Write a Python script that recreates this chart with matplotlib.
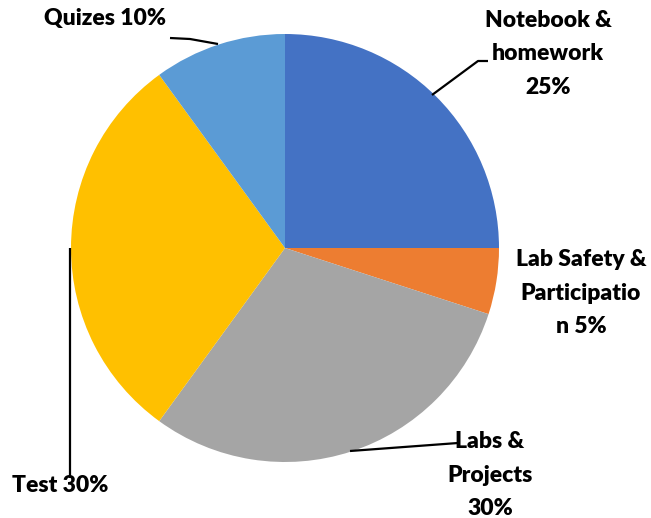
import matplotlib.pyplot as plt

# ==============================================================================
categories = ["Notebook &\nhomework\n25%", "Lab Safety &\nParticipatio\nn 5%",
              "Labs &\nProjects\n30%", "Test 30%", "Quizes 10%"]
values = [25, 5, 30, 30, 10]
colors = ["#4472C4", "#ED7D31", "#A5A5A5", "#FFC000", "#5B9BD5"]
# ==============================================================================
W, H = 651, 518
fig = plt.figure(figsize=(W / 100, H / 100), dpi=100)
ax = fig.add_axes([0, 0, 1, 1])

cx, cy, r = 285, H - 248, 214
ax.pie(values, colors=colors, startangle=90, counterclock=False,
       center=(cx, cy), radius=r, frame=True,
       wedgeprops={"linewidth": 0})
ax.set_xlim(0, W)
ax.set_ylim(0, H)
ax.axis("off")

font = dict(family="Lato", weight="heavy", fontsize=16.5, color="black",
            ha="center", va="center", linespacing=1.72)

# label positions (pixel coords, y from top)
label_pos = [(548, 54), (581, 293), (490, 475), (60, 486), (105, 18)]
for text, (px, py) in zip(categories, label_pos):
    ax.text(px, H - py, text, **font)

# leader lines
leaders = [
    [(432, 95), (478, 61), (488, 61)],
    [(350, 451), (458, 443)],
    [(70, 248), (70, 478)],
    [(170, 38), (190, 39), (218, 44)],
]
for pts in leaders:
    xs = [p[0] for p in pts]
    ys = [H - p[1] for p in pts]
    ax.plot(xs, ys, color="black", linewidth=1.6, solid_capstyle="butt")

fig.savefig("out.png", dpi=100)
